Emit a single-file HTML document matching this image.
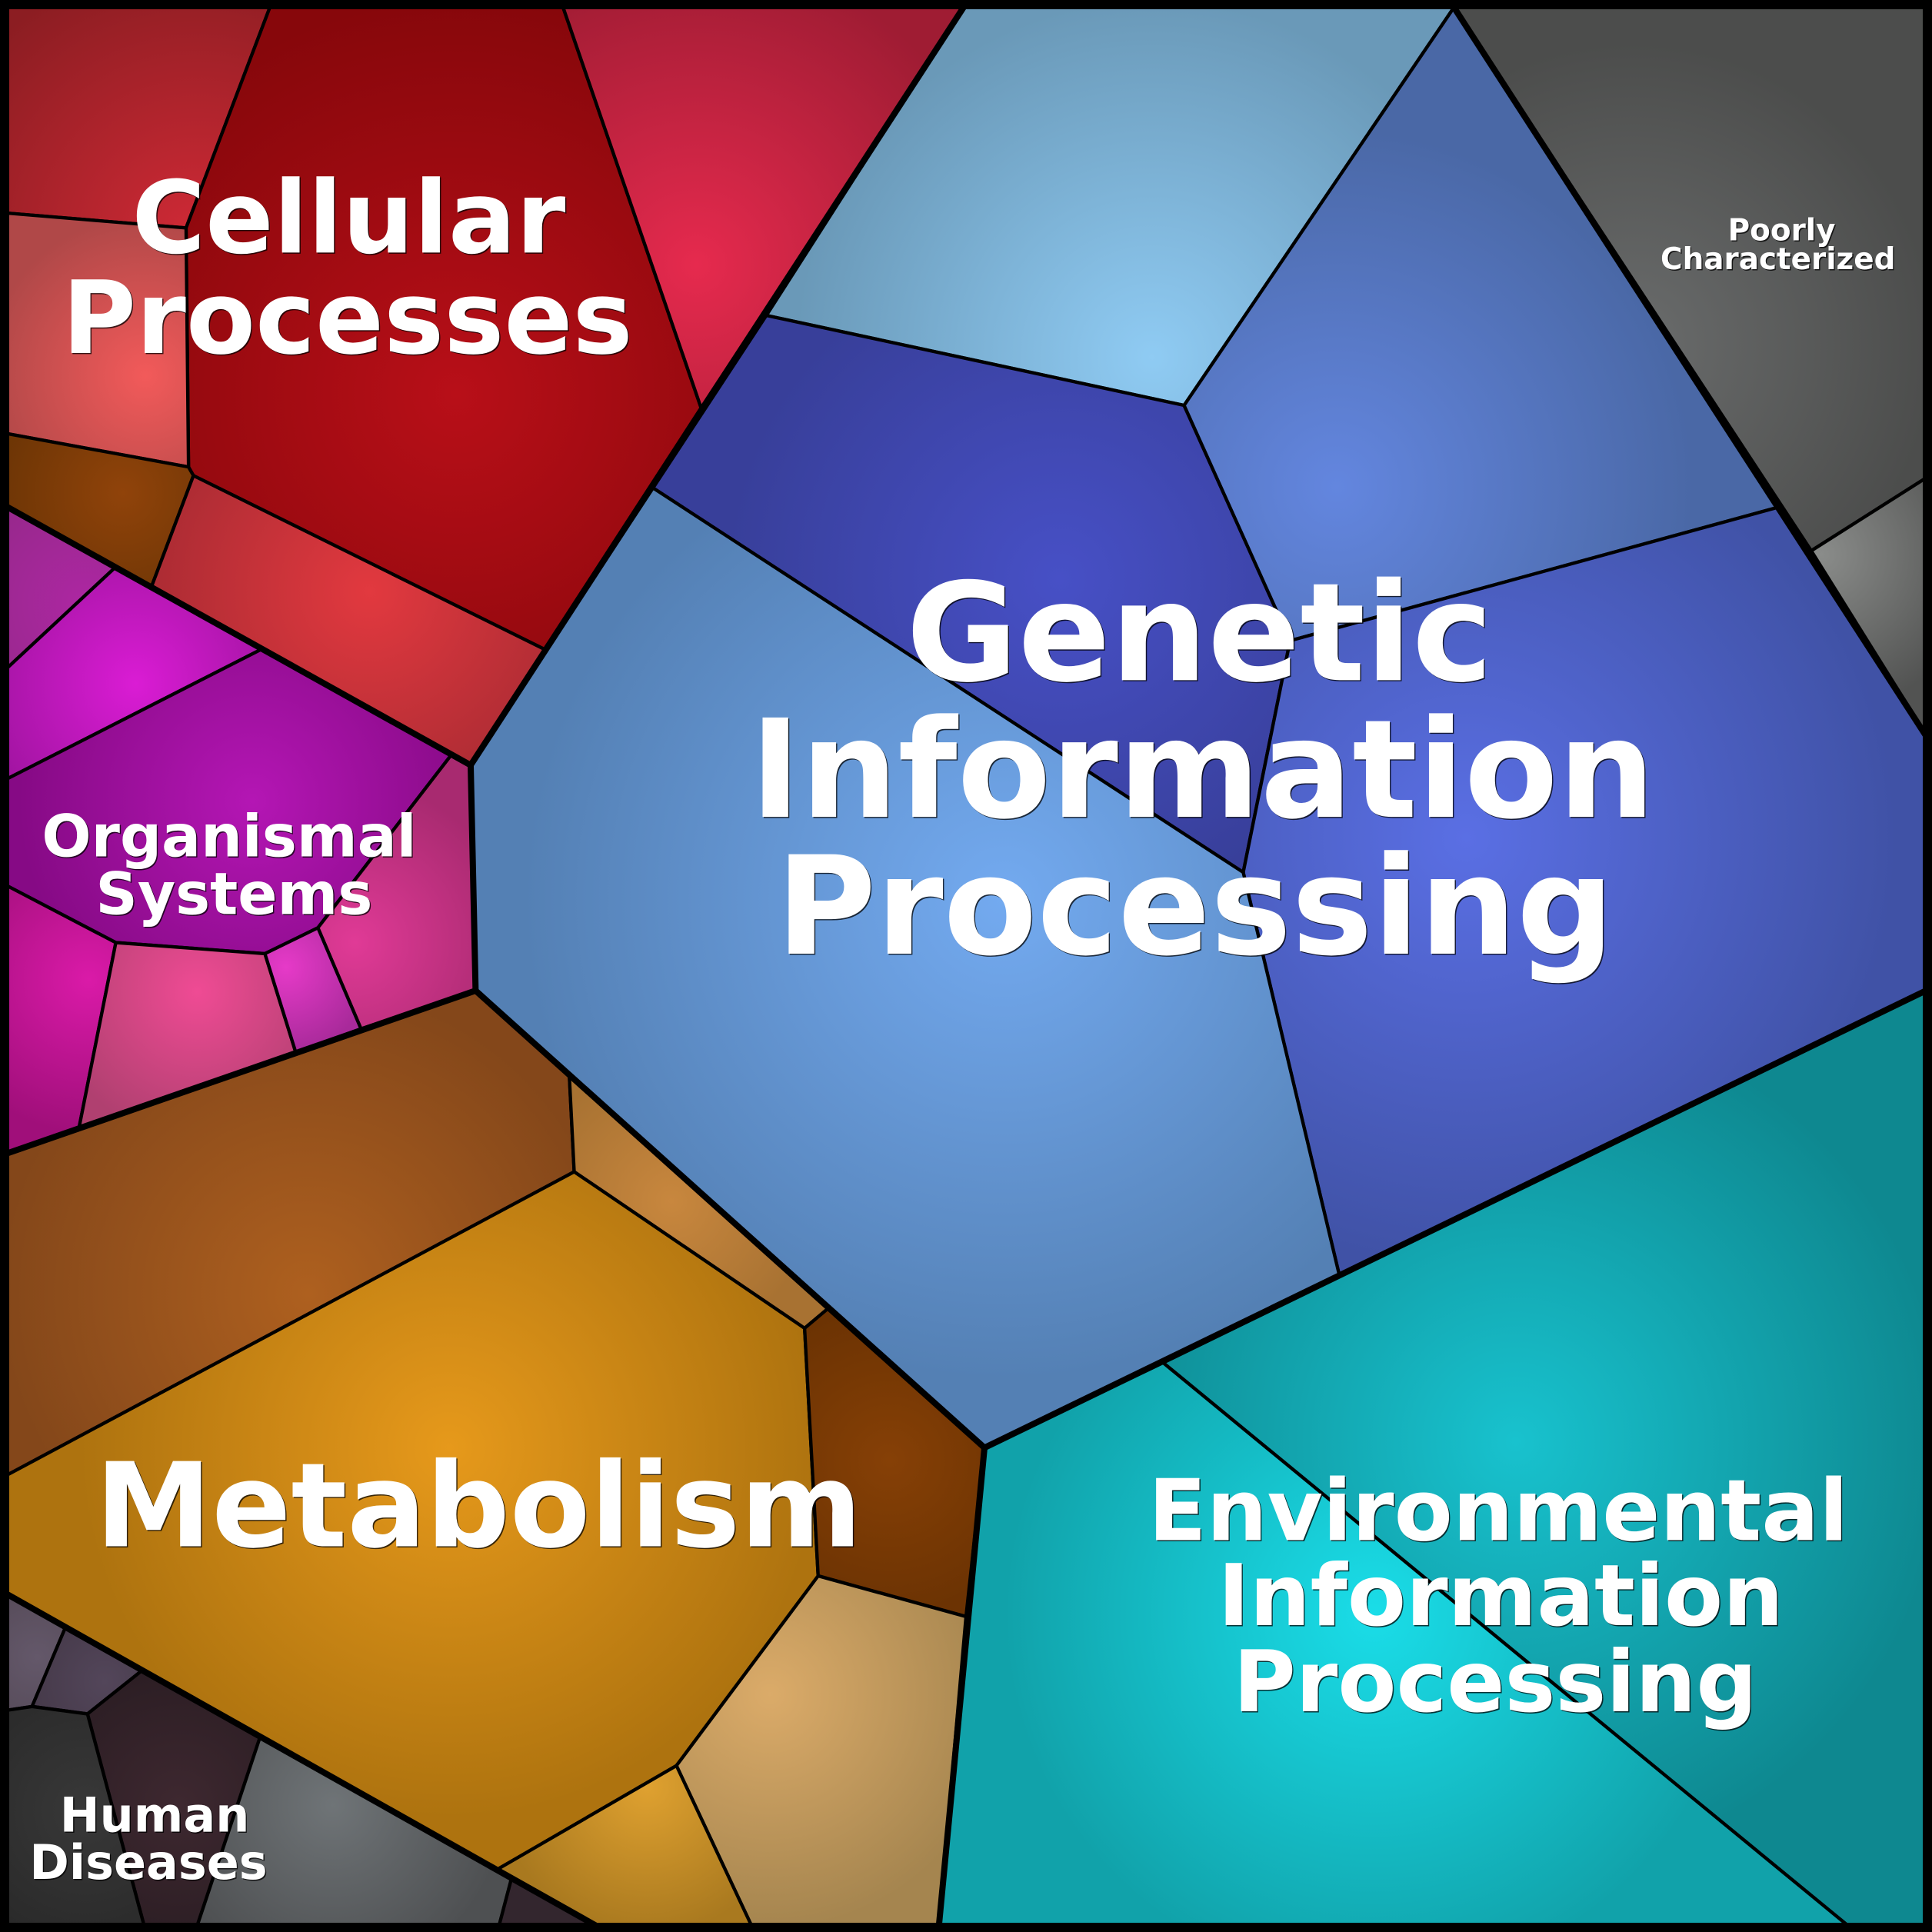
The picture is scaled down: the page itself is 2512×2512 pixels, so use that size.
<!DOCTYPE html>
<html lang="en"><head><meta charset="utf-8"><title>Proteomap</title>
<style>
html,body{margin:0;padding:0;background:#000}
svg{display:block}
text{font-family:"DejaVu Sans",sans-serif;font-weight:bold;text-anchor:middle}
.c polygon{stroke:#000;stroke-width:2.7;stroke-linejoin:miter}
.t polyline{fill:none;stroke:#000;stroke-width:5;stroke-linejoin:miter}
</style></head><body>
<svg xmlns="http://www.w3.org/2000/svg" width="2512" height="2512" viewBox="0 0 1568 1568">
<defs>
<radialGradient id="a1" gradientUnits="userSpaceOnUse" cx="160" cy="195" r="230"><stop offset="0" stop-color="#d02a36"/><stop offset="1" stop-color="#8c1d22"/></radialGradient>
<radialGradient id="a2" gradientUnits="userSpaceOnUse" cx="370" cy="320" r="320"><stop offset="0" stop-color="#b80f18"/><stop offset="1" stop-color="#87070b"/></radialGradient>
<radialGradient id="a3" gradientUnits="userSpaceOnUse" cx="565" cy="215" r="250"><stop offset="0" stop-color="#e62a4e"/><stop offset="1" stop-color="#9f1c33"/></radialGradient>
<radialGradient id="a4" gradientUnits="userSpaceOnUse" cx="118" cy="305" r="130"><stop offset="0" stop-color="#f25a5a"/><stop offset="1" stop-color="#b04848"/></radialGradient>
<radialGradient id="a5" gradientUnits="userSpaceOnUse" cx="100" cy="400" r="105"><stop offset="0" stop-color="#90430a"/><stop offset="1" stop-color="#6c3505"/></radialGradient>
<radialGradient id="a6" gradientUnits="userSpaceOnUse" cx="300" cy="480" r="170"><stop offset="0" stop-color="#e2393f"/><stop offset="1" stop-color="#ae2c34"/></radialGradient>
<radialGradient id="g1" gradientUnits="userSpaceOnUse" cx="935" cy="290" r="290"><stop offset="0" stop-color="#8fcbf3"/><stop offset="1" stop-color="#6a99b8"/></radialGradient>
<radialGradient id="g2" gradientUnits="userSpaceOnUse" cx="860" cy="470" r="270"><stop offset="0" stop-color="#4750c6"/><stop offset="1" stop-color="#383f9a"/></radialGradient>
<radialGradient id="g3" gradientUnits="userSpaceOnUse" cx="1085" cy="395" r="290"><stop offset="0" stop-color="#6386df"/><stop offset="1" stop-color="#4a68a6"/></radialGradient>
<radialGradient id="g4" gradientUnits="userSpaceOnUse" cx="1190" cy="680" r="350"><stop offset="0" stop-color="#5a6fe4"/><stop offset="1" stop-color="#4052a6"/></radialGradient>
<radialGradient id="g5" gradientUnits="userSpaceOnUse" cx="815" cy="730" r="390"><stop offset="0" stop-color="#73aaf0"/><stop offset="1" stop-color="#5480b4"/></radialGradient>
<radialGradient id="p1" gradientUnits="userSpaceOnUse" cx="1325" cy="280" r="245"><stop offset="0" stop-color="#6a6c6c"/><stop offset="1" stop-color="#4c4d4c"/></radialGradient>
<radialGradient id="p2" gradientUnits="userSpaceOnUse" cx="1478" cy="450" r="130"><stop offset="0" stop-color="#8a8c8a"/><stop offset="1" stop-color="#525352"/></radialGradient>
<radialGradient id="o1" gradientUnits="userSpaceOnUse" cx="70" cy="490" r="90"><stop offset="0" stop-color="#ad27a2"/><stop offset="1" stop-color="#99288e"/></radialGradient>
<radialGradient id="o2" gradientUnits="userSpaceOnUse" cx="110" cy="555" r="130"><stop offset="0" stop-color="#da1cd4"/><stop offset="1" stop-color="#a014a0"/></radialGradient>
<radialGradient id="o3" gradientUnits="userSpaceOnUse" cx="205" cy="650" r="190"><stop offset="0" stop-color="#b416b4"/><stop offset="1" stop-color="#860a85"/></radialGradient>
<radialGradient id="o4" gradientUnits="userSpaceOnUse" cx="288" cy="765" r="130"><stop offset="0" stop-color="#e03a96"/><stop offset="1" stop-color="#a82a70"/></radialGradient>
<radialGradient id="o5" gradientUnits="userSpaceOnUse" cx="72" cy="795" r="125"><stop offset="0" stop-color="#da1aa8"/><stop offset="1" stop-color="#a00f7a"/></radialGradient>
<radialGradient id="o6" gradientUnits="userSpaceOnUse" cx="160" cy="805" r="120"><stop offset="0" stop-color="#ef4b94"/><stop offset="1" stop-color="#b04070"/></radialGradient>
<radialGradient id="o7" gradientUnits="userSpaceOnUse" cx="232" cy="785" r="70"><stop offset="0" stop-color="#e63ac8"/><stop offset="1" stop-color="#a82a9a"/></radialGradient>
<radialGradient id="m1" gradientUnits="userSpaceOnUse" cx="250" cy="1050" r="250"><stop offset="0" stop-color="#ae601f"/><stop offset="1" stop-color="#84471a"/></radialGradient>
<radialGradient id="m2" gradientUnits="userSpaceOnUse" cx="545" cy="975" r="115"><stop offset="0" stop-color="#c8873e"/><stop offset="1" stop-color="#a87232"/></radialGradient>
<radialGradient id="m3" gradientUnits="userSpaceOnUse" cx="365" cy="1175" r="300"><stop offset="0" stop-color="#e6991b"/><stop offset="1" stop-color="#ae730f"/></radialGradient>
<radialGradient id="m4" gradientUnits="userSpaceOnUse" cx="722" cy="1185" r="125"><stop offset="0" stop-color="#864006"/><stop offset="1" stop-color="#6c3303"/></radialGradient>
<radialGradient id="m5" gradientUnits="userSpaceOnUse" cx="625" cy="1375" r="190"><stop offset="0" stop-color="#dbab69"/><stop offset="1" stop-color="#a5854f"/></radialGradient>
<radialGradient id="m6" gradientUnits="userSpaceOnUse" cx="525" cy="1450" r="120"><stop offset="0" stop-color="#dfa130"/><stop offset="1" stop-color="#a9791f"/></radialGradient>
<radialGradient id="h1" gradientUnits="userSpaceOnUse" cx="30" cy="1345" r="60"><stop offset="0" stop-color="#64586a"/><stop offset="1" stop-color="#564b59"/></radialGradient>
<radialGradient id="h2" gradientUnits="userSpaceOnUse" cx="85" cy="1365" r="60"><stop offset="0" stop-color="#53465a"/><stop offset="1" stop-color="#463a4a"/></radialGradient>
<radialGradient id="h3" gradientUnits="userSpaceOnUse" cx="145" cy="1465" r="110"><stop offset="0" stop-color="#3e2830"/><stop offset="1" stop-color="#2c1e24"/></radialGradient>
<radialGradient id="h4" gradientUnits="userSpaceOnUse" cx="70" cy="1470" r="110"><stop offset="0" stop-color="#383838"/><stop offset="1" stop-color="#2a2a2a"/></radialGradient>
<radialGradient id="h5" gradientUnits="userSpaceOnUse" cx="270" cy="1465" r="140"><stop offset="0" stop-color="#6f7477"/><stop offset="1" stop-color="#4e5052"/></radialGradient>
<radialGradient id="e1" gradientUnits="userSpaceOnUse" cx="1230" cy="1170" r="350"><stop offset="0" stop-color="#18c2ce"/><stop offset="1" stop-color="#0e8890"/></radialGradient>
<radialGradient id="e2" gradientUnits="userSpaceOnUse" cx="1115" cy="1310" r="300"><stop offset="0" stop-color="#1adde8"/><stop offset="1" stop-color="#11a2aa"/></radialGradient>
</defs>

<g class="c">
<polygon fill="url(#a1)" points="6,6 219,6 151,185 6,173"/>
<polygon fill="url(#a2)" points="219,6 457,6 569,331 442,527 157,386 153,379 151,185"/>
<polygon fill="url(#a3)" points="457,6 782,6 569,331"/>
<polygon fill="url(#a4)" points="6,173 151,185 153,379 6,352"/>
<polygon fill="url(#a5)" points="6,352 153,379 157,386 123,476 6,412"/>
<polygon fill="url(#a6)" points="157,386 442,527 382,621 123,476"/>

<polygon fill="url(#g1)" points="782,6 1180,6 961,329 622,256"/>
<polygon fill="url(#g2)" points="622,256 961,329 1047,520 1009,708 530,396"/>
<polygon fill="url(#g3)" points="1180,6 1442,412 1047,520 961,329"/>
<polygon fill="url(#g4)" points="1442,412 1563,596 1563,804 1087,1035 1009,708 1047,520"/>
<polygon fill="url(#g5)" points="530,396 1009,708 1087,1035 799,1175 386,804 382,621"/>

<polygon fill="url(#p1)" points="1180,6 1563,6 1563,388 1470,447"/>
<polygon fill="url(#p2)" points="1470,447 1563,388 1563,596"/>

<polygon fill="url(#o1)" points="6,412 93,461 6,542"/>
<polygon fill="url(#o2)" points="93,461 212,527 6,632 6,542"/>
<polygon fill="url(#o3)" points="212,527 366,613 258,753 215,774 94,765 6,719 6,632"/>
<polygon fill="url(#o4)" points="366,613 382,621 386,804 293,835 258,753"/>
<polygon fill="url(#o5)" points="6,719 94,765 64,916 6,936"/>
<polygon fill="url(#o6)" points="94,765 215,774 240,854 64,916"/>
<polygon fill="url(#o7)" points="215,774 258,753 293,835 240,854"/>

<polygon fill="url(#m1)" points="6,936 386,804 462,872 466,951 6,1197"/>
<polygon fill="url(#m2)" points="462,872 672,1062 653,1078 466,951"/>
<polygon fill="url(#m3)" points="466,951 653,1078 664,1279 549,1433 404,1517 6,1294 6,1197"/>
<polygon fill="url(#m4)" points="672,1062 799,1175 784,1312 664,1279 653,1078"/>
<polygon fill="url(#m5)" points="664,1279 784,1312 762,1563 610,1563 549,1433"/>
<polygon fill="url(#m6)" points="549,1433 610,1563 484,1563 404,1517"/>

<polygon fill="url(#h1)" points="6,1294 53,1321 26,1385 6,1388"/>
<polygon fill="url(#h2)" points="53,1321 115,1356 71,1391 26,1385"/>
<polygon fill="url(#h3)" points="115,1356 211,1410 160,1563 117,1563 71,1391"/>
<polygon fill="url(#h4)" points="6,1388 26,1385 71,1391 117,1563 6,1563"/>
<polygon fill="url(#h5)" points="211,1410 415,1525 405,1563 160,1563"/>
<polygon fill="#33262e" points="415,1525 484,1563 405,1563"/>

<polygon fill="url(#e1)" points="944,1106 1563,804 1563,1563 1500,1563"/>
<polygon fill="url(#e2)" points="799,1175 944,1106 1500,1563 762,1563"/>
</g>

<g class="t">
<polyline points="6,411.5 382,621 386,804 6,936"/>
<polyline points="782,6 382,621"/>
<polyline points="1180,6 1563,597"/>
<polyline points="386,804 799,1175 1563,804"/>
<polyline points="799,1175 762,1563"/>
<polyline points="6,1294 484,1563"/>
</g>
<rect x="3.75" y="3.75" width="1560.5" height="1560.5" fill="none" stroke="#000" stroke-width="7.5"/>

<g fill="#000" fill-opacity=".75" transform="translate(.9 .9)">
<text font-size="110.7" x="973.5" y="552">Genetic</text>
<text font-size="110.7" x="976" y="663">Information</text>
<text font-size="110.7" x="970" y="774">Processing</text>
<text font-size="81.5" x="283" y="205">Cellular</text>
<text font-size="82" x="282" y="286.5">Processes</text>
<text font-size="95" x="388.5" y="1255">Metabolism</text>
<text font-size="69.2" x="1216" y="1250">Environmental</text>
<text font-size="69.2" x="1218" y="1319">Information</text>
<text font-size="69.2" x="1213.5" y="1389">Processing</text>
<text font-size="47.2" x="186" y="695">Organismal</text>
<text font-size="47.2" x="190" y="742">Systems</text>
<text font-size="38.7" x="125.5" y="1486.5">Human</text>
<text font-size="38.7" x="120.5" y="1525">Diseases</text>
<text font-size="24.3" x="1446" y="195">Poorly</text>
<text font-size="24.3" x="1443" y="218.5">Characterized</text>
</g>
<g fill="#fff">
<text font-size="110.7" x="973.5" y="552">Genetic</text>
<text font-size="110.7" x="976" y="663">Information</text>
<text font-size="110.7" x="970" y="774">Processing</text>
<text font-size="81.5" x="283" y="205">Cellular</text>
<text font-size="82" x="282" y="286.5">Processes</text>
<text font-size="95" x="388.5" y="1255">Metabolism</text>
<text font-size="69.2" x="1216" y="1250">Environmental</text>
<text font-size="69.2" x="1218" y="1319">Information</text>
<text font-size="69.2" x="1213.5" y="1389">Processing</text>
<text font-size="47.2" x="186" y="695">Organismal</text>
<text font-size="47.2" x="190" y="742">Systems</text>
<text font-size="38.7" x="125.5" y="1486.5">Human</text>
<text font-size="38.7" x="120.5" y="1525">Diseases</text>
<text font-size="24.3" x="1446" y="195">Poorly</text>
<text font-size="24.3" x="1443" y="218.5">Characterized</text>
</g>
</svg>
</body></html>
